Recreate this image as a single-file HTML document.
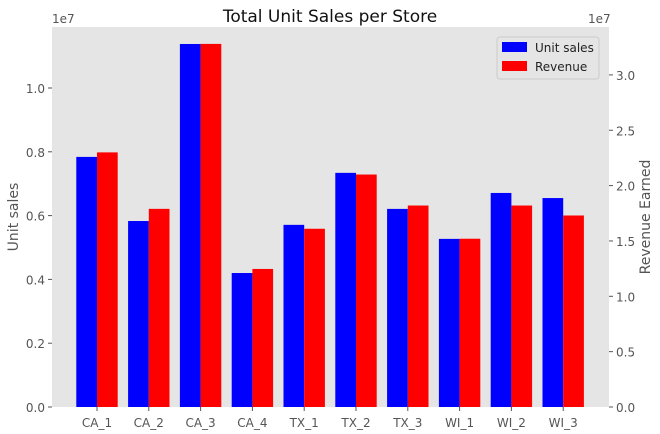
<!DOCTYPE html>
<html><head><meta charset="utf-8"><style>
body{margin:0;background:#fff}
svg{display:block;font-family:"DejaVu Sans","Liberation Sans",sans-serif}
</style></head><body>
<svg id="chart" width="660" height="434">
<rect x="52" y="27" width="557" height="380" fill="#e5e5e5"/>
<g id="bars"></g><g id="axes"></g>
<text x="330" y="22" text-anchor="middle" font-size="17" fill="#111">Total Unit Sales per Store</text>
<text x="52" y="23" font-size="12" fill="#555">1e7</text>
<text x="588" y="23" font-size="12" fill="#555">1e7</text>
<text transform="translate(18,217) rotate(-90)" text-anchor="middle" font-size="14" fill="#555">Unit sales</text>
<text transform="translate(650,217) rotate(-90)" text-anchor="middle" font-size="14" fill="#555">Revenue Earned</text>
<g>
<rect x="497" y="37" width="102" height="42" rx="3" fill="#e5e5e5" stroke="#ccc"/>
<rect x="502" y="42" width="25" height="10" fill="#0000ff"/>
<text x="535" y="52" font-size="12" fill="#222">Unit sales</text>
<rect x="502" y="61" width="25" height="10" fill="#ff0000"/>
<text x="535" y="71" font-size="12" fill="#222">Revenue</text>
</g>
</svg>
<script>
const categories=["CA_1","CA_2","CA_3","CA_4","TX_1","TX_2","TX_3","WI_1","WI_2","WI_3"];
const unitSales=[0.784,0.583,1.138,0.420,0.571,0.734,0.621,0.527,0.671,0.655];
const revenue=[2.30,1.79,3.28,1.247,1.61,2.10,1.82,1.52,1.82,1.73];
const leftTicks=[0,0.2,0.4,0.6,0.8,1.0];
const rightTicks=[0,0.5,1.0,1.5,2.0,2.5,3.0];
const NS="http://www.w3.org/2000/svg";
const x0=52,x1=609,y0=407,y1=27;
const xs=i=>97+i*51.8;
const yl=v=>y0-v*319;
const yr=v=>y0-v*110.7;
const bw=20.7;
function mk(t,a,p){const e=document.createElementNS(NS,t);for(const k in a)e.setAttribute(k,a[k]);p.appendChild(e);return e;}
const bars=document.getElementById('bars'),axes=document.getElementById('axes');
categories.forEach((c,i)=>{
 let b=mk('rect',{x:xs(i)-bw,y:yl(unitSales[i]),width:bw,height:y0-yl(unitSales[i]),fill:'#0000ff'},bars);
 
 
 let r=mk('rect',{x:xs(i),y:yr(revenue[i]),width:bw,height:y0-yr(revenue[i]),fill:'#ff0000'},bars);
 
 
 mk('line',{x1:xs(i),x2:xs(i),y1:y0,y2:y0+4,stroke:'#555'},axes);
 let t=mk('text',{x:xs(i),y:y0+20,'text-anchor':'middle','font-size':12,fill:'#555'},axes);
 t.textContent=c;
 
 
});
leftTicks.forEach(v=>{
 mk('line',{x1:x0-4,x2:x0,y1:yl(v),y2:yl(v),stroke:'#555'},axes);
 let t=mk('text',{x:x0-7,y:yl(v)+5,'text-anchor':'end','font-size':12,fill:'#555'},axes);
 t.textContent=v.toFixed(1);
 
 
});
rightTicks.forEach(v=>{
 mk('line',{x1:x1,x2:x1+4,y1:yr(v),y2:yr(v),stroke:'#555'},axes);
 let t=mk('text',{x:x1+7,y:yr(v)+5,'font-size':12,fill:'#555'},axes);
 t.textContent=v.toFixed(1);
 
 
});
</script>
</body></html>
